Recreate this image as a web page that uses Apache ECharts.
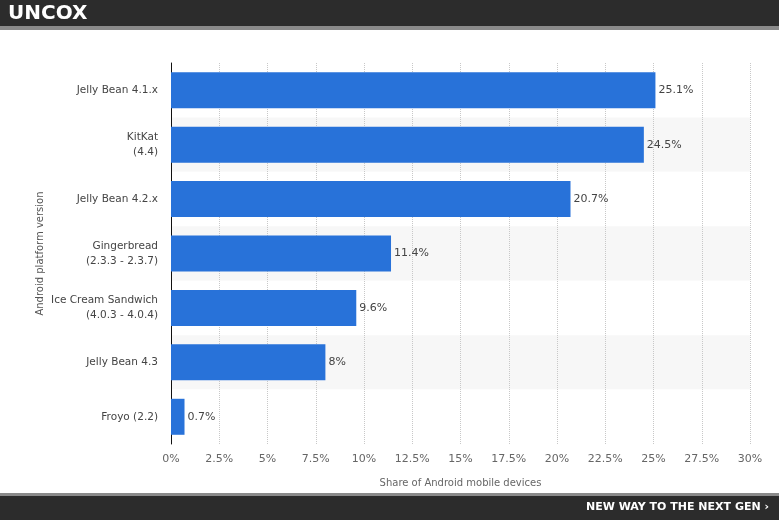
<!DOCTYPE html>
<html>
<head>
<meta charset="utf-8">
<script src="https://cdn.jsdelivr.net/npm/echarts@6/dist/echarts.min.js"></script>
<style>
  html, body { margin: 0; padding: 0; background: #fff; }
  #main { width: 779px; height: 520px; }
</style>
</head>
<body>
<div id="main"></div>
<script>
// android versions, top to bottom
var categories = [
  'Jelly Bean 4.1.x',
  'KitKat\n(4.4)',
  'Jelly Bean 4.2.x',
  'Gingerbread\n(2.3.3 - 2.3.7)',
  'Ice Cream Sandwich\n(4.0.3 - 4.0.4)',
  'Jelly Bean 4.3',
  'Froyo (2.2)'
];
var shares = [25.1, 24.5, 20.7, 11.4, 9.6, 8, 0.7];
var xTicks = [0, 2.5, 5, 7.5, 10, 12.5, 15, 17.5, 20, 22.5, 25, 27.5, 30];

var chart = echarts.init(document.getElementById('main'));

var option = {
  backgroundColor: '#fff',
  animation: false,
  textStyle: { fontFamily: 'DejaVu Sans' },
  grid: { left: 171, right: 29, top: 63, bottom: 76, containLabel: false },
  xAxis: {
    type: 'value',
    min: xTicks[0],
    max: xTicks[xTicks.length - 1],
    interval: 2.5,
    name: 'Share of Android mobile devices',
    nameLocation: 'middle',
    nameGap: 34,
    nameTextStyle: { color: '#666', fontSize: 10 },
    axisLine: { show: false },
    axisTick: { show: false },
    axisLabel: { color: '#666', fontSize: 11, margin: 10, formatter: function (v) { return v + '%'; } },
    splitLine: { show: true, lineStyle: { color: '#c8c8c8', type: 'dotted' } }
  },
  yAxis: {
    type: 'category',
    inverse: true,
    data: categories,
    name: 'Android platform version',
    nameLocation: 'middle',
    nameGap: 126,
    nameMoveOverlap: false,
    nameRotate: 90,
    nameTextStyle: { color: '#555', fontSize: 10 },
    axisLine: { show: true, lineStyle: { color: '#111', width: 1 } },
    axisTick: { show: false },
    axisLabel: { color: '#444', fontSize: 10.5, margin: 13, lineHeight: 15, align: 'right' },
    splitArea: { show: true, areaStyle: { color: ['#ffffff', '#f7f7f7'] } },
    splitLine: { show: false }
  },
  series: [{
    type: 'bar',
    data: shares,
    barWidth: 36,
    itemStyle: { color: '#2872d9' },
    label: {
      show: true,
      position: 'right',
      distance: 3,
      color: '#444',
      fontSize: 11,
      formatter: function (p) { return p.value + '%'; }
    }
  }],
  graphic: [
    { type: 'rect', left: 0, top: 0, shape: { width: 779, height: 26 }, style: { fill: '#2c2c2c' }, silent: true },
    { type: 'rect', left: 0, top: 26, shape: { width: 779, height: 4 }, style: { fill: '#8a8a8a' }, silent: true },
    { type: 'text', left: 8, top: 4, style: { text: 'UNCOX', fill: '#fff', font: 'bold 20px "DejaVu Sans"' }, silent: true },
    { type: 'rect', left: 0, top: 493, shape: { width: 779, height: 3 }, style: { fill: '#8a8a8a' }, silent: true },
    { type: 'rect', left: 0, top: 496, shape: { width: 779, height: 24 }, style: { fill: '#2c2c2c' }, silent: true },
    { type: 'text', right: 10, top: 502, style: { text: 'NEW WAY TO THE NEXT GEN \u203A', fill: '#fff', font: 'bold 11px "DejaVu Sans"' }, silent: true }
  ]
};

chart.setOption(option);
</script>
</body>
</html>
